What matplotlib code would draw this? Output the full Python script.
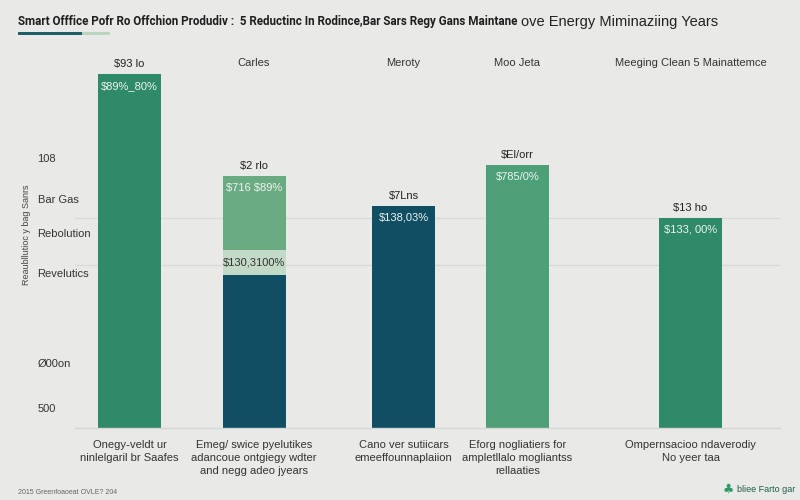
import numpy as np
import matplotlib
matplotlib.use("Agg")
import matplotlib.pyplot as plt
from matplotlib.patches import Rectangle

plt.rcParams["text.parse_math"] = False
plt.rcParams["font.family"] = ["Liberation Sans", "DejaVu Sans"]

# data (arbitrary units, baseline = 0)
categories = ["Onegy\u2011veldt ur\nninlelgaril br Saafes",
              "Emeg/ swice pyelutikes\nadancoue ontgiegy wdter\nand negg adeo jyears",
              "Cano ver sutiicars\nemeeffounnaplaiion",
              "Eforg nogliatiers for\nampletllalo mogliantss\nrellaaties",
              "Ompernsacioo ndaverodiy\nNo yeer taa"]
headers = ["", "Carles", "Meroty", "Moo Jeta", "Meeging Clean 5 Mainattemce"]
base_vals = [354, 153, 222, 263, 210]
mid_vals = [0, 25, 0, 0, 0]
top_vals = [0, 74, 0, 0, 0]
top_labels = ["$93 lo", "$2 rlo", "$7Lns", "$El/orr", "$13 ho"]
inner_labels = ["$89%_80%", "$716 $89%", "$138,03%", "$785/0%", "$133, 00%"]
mid_label = "$130,3100%"
ytick_vals = [270, 229, 195, 155, 65, 20]
ytick_labels = ["108", "Bar Gas", "Rebolution", "Revelutics", "\u00d800on", "500"]

# layout
xpos = np.array([54.5, 179, 328.5, 442.5, 615.5])
width = 63
base_colors = ["#2e8a68", "#0f4e63", "#0f4e63", "#4c9f77", "#2e8a68"]
bg = "#e9e9e7"

fig = plt.figure(figsize=(8, 5), dpi=100, facecolor=bg)
ax = fig.add_axes([75 / 800, 72 / 500, 705 / 800, 370 / 500])
ax.set_facecolor(bg)
ax.set_xlim(0, 705)
ax.set_ylim(0, 370)

for g in [163, 210]:
    ax.axhline(g, color="#d9d9d7", lw=0.9, zorder=0)

ax.bar(xpos, base_vals, width, color=base_colors, zorder=2)
bottoms = np.array(base_vals)
ax.bar(xpos, mid_vals, width, bottom=bottoms, color="#c3dac8", zorder=2)
bottoms = bottoms + np.array(mid_vals)
ax.bar(xpos, top_vals, width, bottom=bottoms, color="#6aab83", zorder=2)
totals = bottoms + np.array(top_vals)

for i in range(len(xpos)):
    ax.text(xpos[i], totals[i] + 5, top_labels[i], ha="center", va="bottom",
            fontsize=8, color="#222222")
    ax.text(xpos[i], totals[i] - 7, inner_labels[i], ha="center", va="top",
            fontsize=8, color="#eef5f0")
    ax.text(xpos[i], -12, categories[i], ha="center", va="top",
            fontsize=8, color="#333333", linespacing=1.35)
    if headers[i]:
        ax.text(xpos[i], 365, headers[i], ha="center",
                va="center", fontsize=8, color="#333333")

ax.text(xpos[1], base_vals[1] + mid_vals[1] / 2, mid_label, ha="center",
        va="center", fontsize=8, color="#333333")

ax.set_yticks(ytick_vals)
ax.set_yticklabels(ytick_labels, fontsize=8, color="#333333")
for lab in ax.get_yticklabels():
    lab.set_ha("left")
ax.tick_params(axis="y", length=0, pad=27)
ax.set_xticks([])
for s in ["top", "right", "left"]:
    ax.spines[s].set_visible(False)
ax.spines["bottom"].set_color("#d6d6d4")
ax.spines["bottom"].set_linewidth(1.0)

fig.text(27 / 800, 1 - 235 / 500, "Reaubllutioc y bag Sanrs", rotation=90,
         ha="center", va="center", fontsize=6.5, color="#444444")

# title with underline accent
t1 = fig.text(18 / 800, 1 - 22 / 500,
              "Smart Offfice Pofr Ro Offchion Produdiv :  5 Reductinc In Rodince,Bar Sars Regy Gans Maintane",
              ha="left", va="center", fontsize=8.4, color="#1e1e1e",
              fontweight="bold", family=["Roboto", "DejaVu Sans"])
fig.canvas.draw()
bb = t1.get_window_extent()
fig.text(bb.x1 / 800 + 4 / 800, 1 - 22 / 500, "ove Energy Miminaziing Years",
         ha="left", va="center", fontsize=10.5, color="#222222")
fig.add_artist(Rectangle((18 / 800, 1 - 35 / 500), 64 / 800, 3 / 500,
                         transform=fig.transFigure, color="#1e5e66", lw=0))
fig.add_artist(Rectangle((82 / 800, 1 - 35 / 500), 28 / 800, 3 / 500,
                         transform=fig.transFigure, color="#b9d6c0", lw=0))

# footer
fig.text(18 / 800, 1 - 492 / 500, "2015 Greenfoaoeat OVLE? 204", ha="left",
         va="center", fontsize=5, color="#666666")
fig.text(737 / 800, 1 - 489 / 500, "bliee Farto gar", ha="left", va="center",
         fontsize=6.5, color="#1e5e4a")
fig.text(734 / 800, 1 - 489 / 500, "\u2663", ha="right", va="center",
         fontsize=9, color="#2e9a68", family="DejaVu Sans")

fig.savefig("out.png", dpi=100, facecolor=bg)
